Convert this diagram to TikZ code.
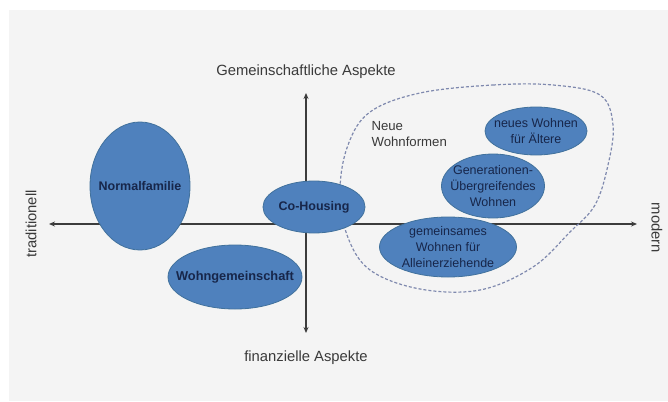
\documentclass[tikz,border=0pt]{standalone}
\usepackage{fontspec}
\setmainfont{Liberation Sans}
\usetikzlibrary{shapes.geometric,arrows.meta}
\definecolor{bggray}{HTML}{F4F4F4}
\definecolor{axisgray}{HTML}{3C3C3C}
\definecolor{labelgray}{HTML}{3A3A3A}
\definecolor{blobfill}{HTML}{4F81BD}
\definecolor{blobline}{HTML}{41719C}
\definecolor{blobtext}{HTML}{17264A}
\definecolor{groupline}{HTML}{7F89AE}
\tikzset{font=\fontsize{12.5}{16}\selectfont,
    axis/.style={draw=axisgray, line width=1.3pt,
        {Stealth[length=6pt,width=5pt]}-{Stealth[length=6pt,width=5pt]}},
    axislabel/.style={text=labelgray, font=\fontsize{14.8}{18}\selectfont},
    blob/.style={ellipse, fill=blobfill, draw=blobline, line width=0.8pt,
        text=blobtext, align=center, inner xsep=-12pt, inner ysep=-3pt},
    }

\begin{document}
\begin{tikzpicture}[x=1pt,y=-1pt]
	% page and background
	\useasboundingbox (0,0) rectangle (668,401);
	\fill[bggray] (9,10) rectangle (668,401);
	% axes
	\coordinate (west) at (49,224);
	\coordinate (east) at (637,224);
	\coordinate (north) at (306,93);
	\coordinate (south) at (306,333);
	\draw[axis] (west) -- (east);
	\draw[axis] (south) -- (north);
	\node[axislabel] (gemein) at (306,72) {Gemeinschaftliche Aspekte};
	\node[axislabel] (finanz) at (306,358) {finanzielle Aspekte};
	\node[axislabel, rotate=90] (trad) at (31,224) {traditionell};
	\node[axislabel, rotate=-90] (mod) at (657,228) {modern};
	% group of new forms
	\draw[groupline, line width=1.2pt, dash pattern=on 3pt off 2pt]
		plot[smooth cycle, tension=0.6] coordinates {(420,93) (493,85) (553,85)
		(600,95) (613,125) (608,165) (595,205) (570,232) (533,267) (480,290)
		(420,289) (370,270) (347,235) (340,190) (348,145) (370,112)};
	\node[text=labelgray, align=left, anchor=north west,
		font=\fontsize{13.2}{16}\selectfont] (neue) at (368,118) {Neue\\Wohnformen};
	% forms of living
	\node[blob, font=\fontsize{12.5}{16}\bfseries, minimum width=100pt, minimum height=128pt]
		(normal) at (140,186) {Normalfamilie};
	\node[blob, font=\fontsize{12.8}{16}\bfseries, minimum width=134pt, minimum height=64pt]
		(wg) at (235,277) {Wohngemeinschaft};
	\node[blob, font=\fontsize{12.5}{16}\bfseries, minimum width=102pt, minimum height=52pt]
		(cohousing) at (314,207) {Co-Housing};
	\node[blob, minimum width=102pt, minimum height=48pt]
		(aeltere) at (536,131) {neues Wohnen\\für Ältere};
	\node[blob, minimum width=103pt, minimum height=64pt]
		(generation) at (493,186) {Generationen-\\Übergreifendes\\Wohnen};
	\node[blob, minimum width=137pt, minimum height=60pt]
		(allein) at (448,247) {gemeinsames\\Wohnen für\\Alleinerziehende};
\end{tikzpicture}
\end{document}
